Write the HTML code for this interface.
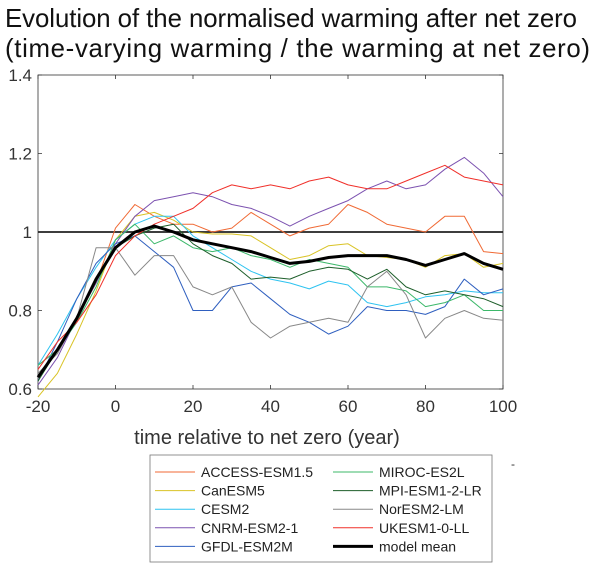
<!DOCTYPE html>
<html><head><meta charset="utf-8"><style>
body{margin:0;background:#fff;width:600px;height:566px;overflow:hidden;font-family:"Liberation Sans",sans-serif}
</style></head><body>
<svg id="chart" width="600" height="566" xmlns="http://www.w3.org/2000/svg" font-family="Liberation Sans, sans-serif">
<text x="5" y="27" font-size="25.8" fill="#111" textLength="572">Evolution of the normalised warming after net zero</text>
<text x="5" y="57" font-size="25.8" fill="#111" textLength="585">(time-varying warming / the warming at net zero)</text>
<rect x="38" y="75" width="465" height="314" fill="none" stroke="#333" stroke-width="0.8"/>
<g id="ticks"></g>
<g id="series"></g>
<text x="267" y="444" font-size="20" text-anchor="middle" fill="#333">time relative to net zero (year)</text>
<rect x="150" y="455" width="342" height="107" fill="#fff" stroke="#777" stroke-width="0.8"/>
<g id="legend"></g>
<text x="511" y="468" font-size="12" fill="#333">-</text>
</svg>
<script>
const years=[-20,-15,-10,-5,0,5,10,15,20,25,30,35,40,45,50,55,60,65,70,75,80,85,90,95,100];
const seriesNames=["ACCESS-ESM1.5","CanESM5","CESM2","CNRM-ESM2-1","GFDL-ESM2M","MIROC-ES2L","MPI-ESM1-2-LR","NorESM2-LM","UKESM1-0-LL","model mean"];
const seriesColors=["#f06a35","#d9c325","#2ec3f0","#7c52b0","#2f5fbf","#3cb86a","#1d5e2a","#888888","#f0302a","#000000"];
const access=[0.66,0.70,0.78,0.87,1.01,1.07,1.04,1.02,1.02,1.00,1.01,1.05,1.02,0.99,1.01,1.02,1.07,1.05,1.02,1.01,1.00,1.04,1.04,0.95,0.945];
const canesm=[0.58,0.64,0.74,0.85,0.98,1.04,1.05,1.03,1.00,0.995,0.995,0.99,0.96,0.93,0.94,0.965,0.97,0.94,0.935,0.93,0.91,0.94,0.945,0.91,0.92];
const cesm=[0.66,0.74,0.83,0.91,0.98,1.02,1.04,1.04,0.99,0.96,0.93,0.90,0.88,0.87,0.855,0.875,0.865,0.82,0.81,0.82,0.835,0.84,0.85,0.845,0.845];
const cnrm=[0.61,0.68,0.78,0.87,0.97,1.04,1.08,1.09,1.10,1.09,1.07,1.06,1.04,1.015,1.04,1.06,1.08,1.11,1.13,1.11,1.12,1.16,1.19,1.15,1.09];
const gfdl=[0.62,0.72,0.83,0.92,0.97,0.99,0.95,0.91,0.80,0.80,0.86,0.87,0.83,0.79,0.77,0.74,0.76,0.81,0.80,0.80,0.79,0.81,0.88,0.84,0.855];
const miroc=[0.66,0.70,0.77,0.86,0.98,1.02,0.97,0.99,0.96,0.95,0.96,0.94,0.93,0.91,0.93,0.92,0.91,0.86,0.86,0.85,0.81,0.82,0.84,0.80,0.80];
const mpi=[0.62,0.70,0.78,0.88,0.96,0.99,1.01,1.02,0.97,0.94,0.92,0.88,0.885,0.88,0.90,0.91,0.905,0.88,0.905,0.86,0.84,0.85,0.84,0.83,0.81];
const noresm=[0.64,0.69,0.78,0.96,0.96,0.89,0.94,0.94,0.86,0.84,0.86,0.77,0.73,0.76,0.77,0.78,0.77,0.86,0.90,0.84,0.73,0.78,0.80,0.78,0.775];
const ukesm=[0.65,0.72,0.77,0.84,0.94,0.99,1.02,1.04,1.06,1.10,1.12,1.11,1.12,1.11,1.13,1.14,1.12,1.11,1.11,1.13,1.15,1.17,1.14,1.13,1.12];
const mean=[0.63,0.70,0.78,0.88,0.96,1.00,1.015,1.00,0.98,0.97,0.96,0.95,0.935,0.92,0.925,0.935,0.94,0.94,0.94,0.93,0.915,0.93,0.945,0.92,0.905];
const xTicks=[-20,0,20,40,60,80,100];
const yTicks=[0.6,0.8,1,1.2,1.4];
const allSeries=[access,canesm,cesm,cnrm,gfdl,miroc,mpi,noresm,ukesm,mean];
const NS="http://www.w3.org/2000/svg";
const X0=38,X1=503,Y0=389,Y1=75;
const xs=v=>X0+(v+20)/120*(X1-X0);
const ys=v=>Y0-(v-0.6)/0.8*(Y0-Y1);
function mk(t,a){const e=document.createElementNS(NS,t);for(const k in a)e.setAttribute(k,a[k]);return e;}
const tg=document.getElementById('ticks');
xTicks.forEach(t=>{
 const x=xs(t);
 const l=mk('path',{d:`M${x},${Y0}v-4M${x},${Y1}v4`,stroke:'#333','stroke-width':0.8});
 
 
 tg.appendChild(l);
 const tx=mk('text',{x:x,y:Y0+23,'font-size':17,'text-anchor':'middle',fill:'#333'});
 tx.textContent=t;
 
 
 tg.appendChild(tx);
});
yTicks.forEach(t=>{
 const y=ys(t);
 const l=mk('path',{d:`M${X0},${y}h4M${X1},${y}h-4`,stroke:'#333','stroke-width':0.8});
 
 
 tg.appendChild(l);
 const tx=mk('text',{x:X0-6,y:y+6,'font-size':17,'text-anchor':'end',fill:'#333'});
 tx.textContent=t;
 
 
 tg.appendChild(tx);
});
const sg=document.getElementById('series');
const ref=mk('line',{x1:X0,x2:X1,y1:ys(1),y2:ys(1),stroke:'#222','stroke-width':1.8});


sg.appendChild(ref);
allSeries.forEach((d,i)=>{
 const pts=d.map((v,j)=>`${xs(years[j]).toFixed(1)},${ys(v).toFixed(1)}`).join(' ');
 const p=mk('polyline',{points:pts,fill:'none',stroke:seriesColors[i],'stroke-width':i==9?3:1,'stroke-linejoin':'round'});
 
 
 sg.appendChild(p);
});
const lg=document.getElementById('legend');
seriesNames.forEach((n,i)=>{
 const col=Math.floor(i/5),row=i%5;
 const lx=col?333:155,y=472+row*18.6;
 const l=mk('line',{x1:lx,x2:lx+40,y1:y,y2:y,stroke:seriesColors[i],'stroke-width':i==9?3:1});
 
 
 lg.appendChild(l);
 const t=mk('text',{x:lx+46,y:y+5,'font-size':14,fill:'#222'});
 t.textContent=n;
 
 
 lg.appendChild(t);
});
</script>
</body></html>
